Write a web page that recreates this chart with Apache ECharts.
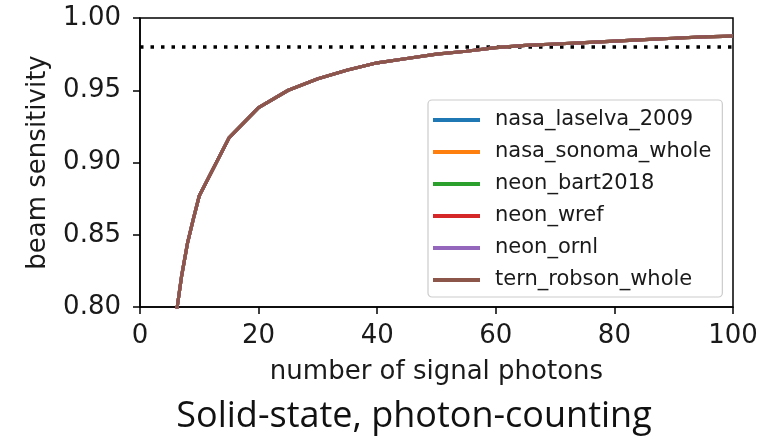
<!DOCTYPE html>
<html>
<head>
<meta charset="utf-8">
<script src="https://cdn.jsdelivr.net/npm/echarts@6/dist/echarts.min.js"></script>
<style>
html,body{margin:0;padding:0;background:#fff;}
#c{width:764px;height:437px;}
</style>
</head>
<body>
<div id="c"></div>
<script>
// Data
const photons = [5, 6, 7, 8, 9, 10, 15, 20, 25, 30, 35, 40, 45, 50, 55, 60, 65, 70, 75, 80, 85, 90, 95, 100];
const sensitivity = [0.750, 0.792, 0.821, 0.844, 0.861, 0.877, 0.917, 0.938, 0.950, 0.958, 0.964, 0.969, 0.972, 0.975, 0.977, 0.9795, 0.981, 0.982, 0.983, 0.984, 0.985, 0.986, 0.987, 0.9875];
const seriesNames = ['nasa_laselva_2009', 'nasa_sonoma_whole', 'neon_bart2018', 'neon_wref', 'neon_ornl', 'tern_robson_whole'];
const seriesColors = ['#1f77b4', '#ff7f0e', '#2ca02c', '#d62728', '#9467bd', '#8c564b'];
const thresholdX = [0, 100];
const thresholdY = 0.98;
const xTicks = [0, 20, 40, 60, 80, 100];
const yTicks = [0.80, 0.85, 0.90, 0.95, 1.00];

const chart = echarts.init(document.getElementById('c'), null, {renderer: 'canvas'});
const font = 'DejaVu Sans';

const series = [{
  name: 'threshold',
  type: 'line',
  data: thresholdX.map(x => [x, thresholdY]),
  symbol: 'none',
  lineStyle: {color: '#000', width: 3.5, type: [3.5, 7]},
  silent: true,
  z: 1
}];
seriesNames.forEach((n, i) => {
  series.push({
    name: n,
    type: 'line',
    data: photons.map((p, j) => [p, sensitivity[j]]),
    symbol: 'none',
    clip: true,
    lineStyle: {color: seriesColors[i], width: 3.2},
    itemStyle: {color: seriesColors[i]},
    z: 2 + i
  });
});

chart.setOption({
  animation: false,
  backgroundColor: '#fff',
  grid: {left: 140, top: 18, right: 31, bottom: 130, show: true, borderColor: '#000', borderWidth: 1.5, backgroundColor: 'transparent'},
  xAxis: {
    type: 'value', min: xTicks[0], max: xTicks[xTicks.length - 1], interval: 20,
    name: 'number of signal photons', nameLocation: 'middle', nameGap: 52,
    nameTextStyle: {fontFamily: font, fontSize: 26, color: '#1a1a1a'},
    axisLine: {show: true, lineStyle: {color: '#000', width: 1.5}},
    axisTick: {show: true, inside: false, length: 7, lineStyle: {color: '#000', width: 1.5}},
    axisLabel: {fontFamily: font, fontSize: 26, color: '#1a1a1a', margin: 16},
    splitLine: {show: false}
  },
  yAxis: {
    type: 'value', min: yTicks[0], max: yTicks[yTicks.length - 1], interval: 0.05,
    name: 'beam sensitivity', nameLocation: 'middle', nameGap: 89,
    nameTextStyle: {fontFamily: font, fontSize: 26, color: '#1a1a1a'},
    axisLine: {show: true, lineStyle: {color: '#000', width: 1.5}},
    axisTick: {show: true, inside: false, length: 7, lineStyle: {color: '#000', width: 1.5}},
    axisLabel: {fontFamily: font, fontSize: 26, color: '#1a1a1a', margin: 19, formatter: v => v.toFixed(2)},
    splitLine: {show: false}
  },
  legend: {
    data: seriesNames,
    orient: 'vertical',
    left: 428, top: 100,
    icon: 'rect', itemWidth: 47, itemHeight: 4, itemGap: 10,
    padding: [9, 11, 6, 5],
    backgroundColor: 'rgba(255,255,255,0.8)',
    borderColor: '#cccccc', borderWidth: 1.2, borderRadius: 4,
    textStyle: {fontFamily: font, fontSize: 21, color: '#1a1a1a', lineHeight: 22, padding: [0, 0, 0, 10]}
  },
  graphic: [{
    type: 'text',
    x: 414, y: 417,
    style: {text: 'Solid-state, photon-counting', font: '36px "Open Sans"', fill: '#111', textAlign: 'center', textVerticalAlign: 'middle'}
  }],
  series: series
});
</script>
</body>
</html>
